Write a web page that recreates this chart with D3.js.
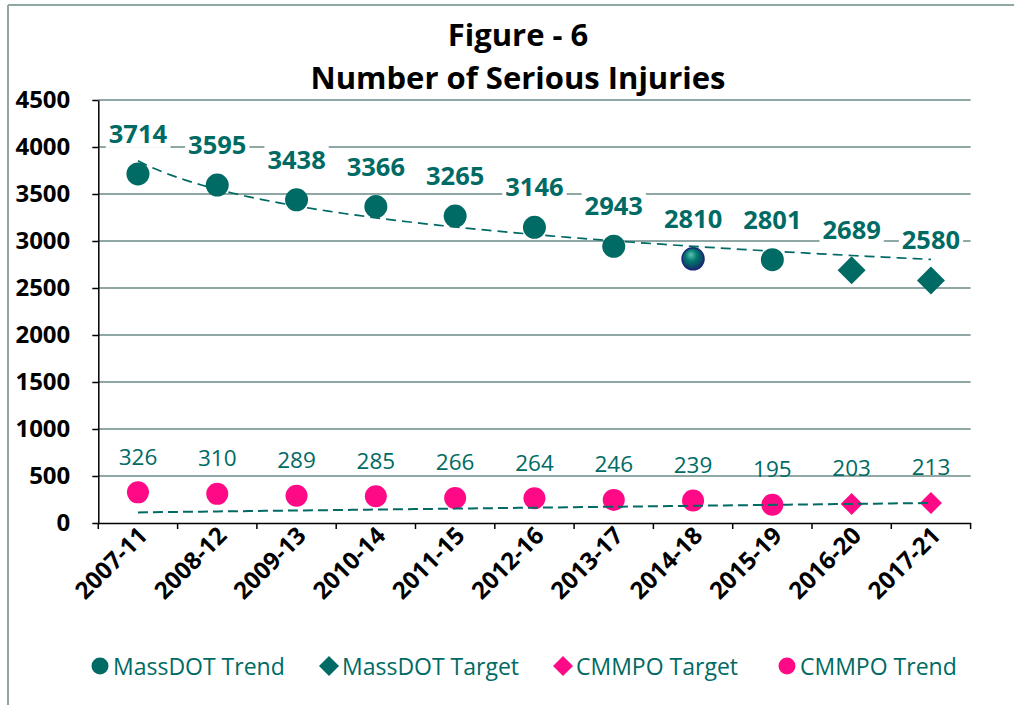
<!DOCTYPE html>
<html>
<head>
<meta charset="utf-8">
<script src="https://cdn.jsdelivr.net/npm/d3@7"></script>
<style>
  html, body { margin: 0; padding: 0; background: #fff; }
  svg { display: block; font-family: "Open Sans", "Noto Sans", sans-serif; }
</style>
</head>
<body>
<svg id="chart" width="1014" height="705"></svg>
<script>
// ---- data ----
const categories = ["2007-11","2008-12","2009-13","2010-14","2011-15","2012-16","2013-17","2014-18","2015-19","2016-20","2017-21"];
const massdotTrend  = [3714, 3595, 3438, 3366, 3265, 3146, 2943, 2810, 2801, null, null];
const massdotTarget = [null, null, null, null, null, null, null, null, null, 2689, 2580];
const cmmpoTrend    = [326, 310, 289, 285, 266, 264, 246, 239, 195, null, null];
const cmmpoTarget   = [null, null, null, null, null, null, null, null, null, 203, 213];
const yTicks = [0, 500, 1000, 1500, 2000, 2500, 3000, 3500, 4000, 4500];
const titleLines = ["Figure - 6", "Number of Serious Injuries"];
const legendItems = [
  {label: "MassDOT Trend", shape: "circle", color: "teal"},
  {label: "MassDOT Target", shape: "diamond", color: "teal"},
  {label: "CMMPO Target", shape: "diamond", color: "pink"},
  {label: "CMMPO Trend", shape: "circle", color: "pink"}
];

// ---- styles ----
const TEAL = "#006A64";
const PINK = "#FF0A86";
const GRID = "#8FA8A5";
const colorOf = c => c === "teal" ? TEAL : PINK;

const svg = d3.select("#chart");
const plotLeft = 98.3, plotRight = 970.6, plotTop = 100, plotBottom = 523;

const x = d3.scaleBand().domain(categories).range([plotLeft, plotRight]).padding(0);
const y = d3.scaleLinear().domain([0, 4500]).range([plotBottom, plotTop]);
const cx = c => x(c) + x.bandwidth() / 2;

// defs: glossy sphere
const defs = svg.append("defs");
const rg = defs.append("radialGradient").attr("id", "sphere")
  .attr("cx", "45%").attr("cy", "40%").attr("r", "60%").attr("fx", "40%").attr("fy", "30%");
rg.append("stop").attr("offset", "0%").attr("stop-color", "#5fc2b4");
rg.append("stop").attr("offset", "45%").attr("stop-color", "#00786e");
rg.append("stop").attr("offset", "80%").attr("stop-color", "#0d4a66");
rg.append("stop").attr("offset", "100%").attr("stop-color", "#1b2a78");

// frame
svg.append("line").attr("x1", 8).attr("x2", 8).attr("y1", 5).attr("y2", 705).attr("stroke", GRID).attr("stroke-width", 2);
svg.append("line").attr("x1", 8).attr("x2", 1014).attr("y1", 5).attr("y2", 5).attr("stroke", GRID).attr("stroke-width", 2);

// title
svg.append("g").selectAll("text").data(titleLines).join("text")
  .attr("x", 518).attr("y", (d, i) => 46 + i * 43)
  .attr("text-anchor", "middle").attr("font-weight", "bold").attr("font-size", 31)
  .attr("fill", "#000").text(d => d);

// gridlines
svg.append("g").selectAll("line").data(yTicks.filter(v => v > 0)).join("line")
  .attr("x1", plotLeft).attr("x2", plotRight).attr("y1", d => y(d)).attr("y2", d => y(d))
  .attr("stroke", GRID).attr("stroke-width", 2);

// y axis
const yAxis = svg.append("g").attr("transform", `translate(${plotLeft},0)`)
  .call(d3.axisLeft(y).tickValues(yTicks).tickSize(6).tickSizeOuter(0).tickFormat(d3.format("d")));
yAxis.select(".domain").attr("stroke", "#000").attr("stroke-width", 1.5);
yAxis.selectAll(".tick line").attr("stroke", "#000").attr("stroke-width", 1.5);
yAxis.selectAll(".tick text").attr("x", -28).attr("font-size", 24).attr("font-weight", "bold")
  .attr("fill", "#000").attr("font-family", "'Open Sans', sans-serif");

// x axis
const xAxis = svg.append("g").attr("transform", `translate(0,${plotBottom})`)
  .call(d3.axisBottom(x).tickSize(0).tickSizeOuter(0));
xAxis.select(".domain").attr("stroke", "#000").attr("stroke-width", 1.5);
xAxis.selectAll(".tick text")
  .attr("font-size", 24).attr("font-weight", "bold").attr("fill", "#000")
  .attr("font-family", "'Open Sans', sans-serif")
  .attr("text-anchor", "end").attr("dy", null).attr("y", null)
  .attr("transform", "translate(11,14) rotate(-45)");
// boundary tick marks
const bounds = categories.map(c => x(c)).concat([plotRight]);
svg.append("g").selectAll("line").data(bounds).join("line")
  .attr("x1", d => d).attr("x2", d => d).attr("y1", plotBottom).attr("y2", plotBottom + 6)
  .attr("stroke", "#000").attr("stroke-width", 1.5);

// ---- trendlines (fitted from the series, as in the spreadsheet) ----
function logFit(vals) {
  const pts = vals.map((v, i) => [Math.log(i + 1), v]).filter(p => p[1] != null);
  const mx = d3.mean(pts, p => p[0]), my = d3.mean(pts, p => p[1]);
  const b = d3.sum(pts, p => (p[0] - mx) * (p[1] - my)) / d3.sum(pts, p => (p[0] - mx) ** 2);
  return t => my + b * (Math.log(t) - mx);
}
function linFit(vals) {
  const pts = vals.map((v, i) => [i + 1, v]).filter(p => p[1] != null);
  const mx = d3.mean(pts, p => p[0]), my = d3.mean(pts, p => p[1]);
  const b = d3.sum(pts, p => (p[0] - mx) * (p[1] - my)) / d3.sum(pts, p => (p[0] - mx) ** 2);
  return t => my + b * (t - mx);
}
const mFit = logFit(massdotTrend);
const cFit = linFit(cmmpoTarget);
const tSteps = d3.range(1, categories.length + 0.001, 0.1);
const tx = t => cx(categories[0]) + (t - 1) * x.bandwidth();
const line = d3.line().x(d => tx(d[0])).y(d => y(d[1]));

// ---- markers ----
const diamond = r => `M0,${-r}L${r},0L0,${r}L${-r},0Z`;

const gM = svg.append("g");
categories.forEach((c, i) => {
  const v = massdotTrend[i];
  if (v == null) return;
  const special = c === "2014-18";
  gM.append("circle").attr("cx", cx(c)).attr("cy", y(v)).attr("r", special ? 11 : 11.5)
    .attr("fill", special ? "url(#sphere)" : TEAL)
    .attr("stroke", special ? "#1b2a78" : "none").attr("stroke-width", special ? 1.5 : 0);
});
categories.forEach((c, i) => {
  const v = massdotTarget[i];
  if (v == null) return;
  gM.append("path").attr("d", diamond(14)).attr("transform", `translate(${cx(c)},${y(v)})`).attr("fill", TEAL);
});
categories.forEach((c, i) => {
  const v = cmmpoTrend[i];
  if (v == null) return;
  gM.append("circle").attr("cx", cx(c)).attr("cy", y(v)).attr("r", 11).attr("fill", PINK);
});
categories.forEach((c, i) => {
  const v = cmmpoTarget[i];
  if (v == null) return;
  gM.append("path").attr("d", diamond(11)).attr("transform", `translate(${cx(c)},${y(v)})`).attr("fill", PINK);
});

// trendlines
svg.append("path").datum(tSteps.map(t => [t, mFit(t)])).attr("d", line)
  .attr("fill", "none").attr("stroke", TEAL).attr("stroke-width", 1.7).attr("stroke-dasharray", "10,6");
svg.append("path").datum(tSteps.map(t => [t, cFit(t)])).attr("d", line)
  .attr("fill", "none").attr("stroke", TEAL).attr("stroke-width", 2).attr("stroke-dasharray", "10,5");

// ---- data labels ----
function addLabels(vals, dyOff, size, weight, withBg) {
  const g = svg.append("g");
  categories.forEach((c, i) => {
    const v = vals[i];
    if (v == null) return;
    const lg = g.append("g").attr("transform", `translate(${cx(c)},${y(v) - dyOff})`);
    const t = lg.append("text").attr("text-anchor", "middle").attr("dominant-baseline", "central")
      .attr("font-size", size).attr("font-weight", weight).attr("fill", TEAL).text(v);
    if (withBg) {
      const bb = t.node().getBBox();
      lg.insert("rect", "text").attr("x", bb.x - 3).attr("y", bb.y + 2).attr("width", bb.width + 6)
        .attr("height", bb.height - 4).attr("fill", "#fff");
    }
  });
}
addLabels(massdotTrend, 41, 25.5, "bold", true);
addLabels(massdotTarget, 41, 25.5, "bold", true);
addLabels(cmmpoTrend, 36, 22.5, "normal", false);
addLabels(cmmpoTarget, 36, 22.5, "normal", false);

// ---- legend ----
const legendX = [100, 329, 563, 787];
const lgd = svg.append("g");
legendItems.forEach((d, i) => {
  const g = lgd.append("g").attr("transform", `translate(${legendX[i]},666)`);
  if (d.shape === "circle") g.append("circle").attr("r", 8.5).attr("fill", colorOf(d.color));
  else g.append("path").attr("d", diamond(10)).attr("fill", colorOf(d.color));
  g.append("text").attr("x", 13).attr("dominant-baseline", "central")
    .attr("font-size", 23).attr("fill", TEAL).text(d.label);
});
</script>
</body>
</html>
